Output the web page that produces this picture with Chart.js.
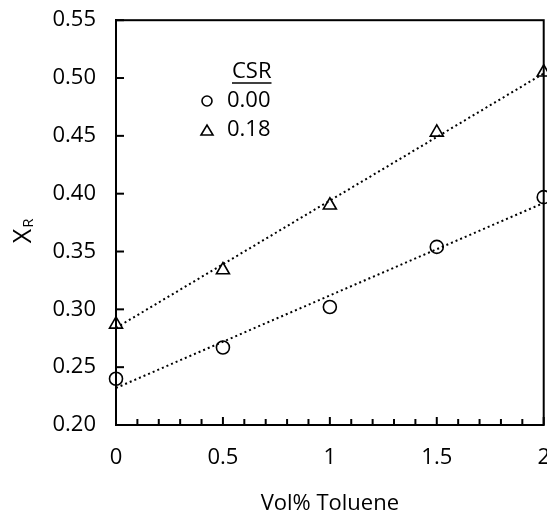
<!DOCTYPE html>
<html>
<head>
<meta charset="utf-8">
<script src="https://cdn.jsdelivr.net/npm/chart.js@4.4.1/dist/chart.umd.min.js"></script>
<style>
  html, body { margin: 0; padding: 0; background: #fff; overflow: hidden; }
  #wrap { width: 547px; height: 517px; overflow: hidden; position: relative; }
  canvas { display: block; }
</style>
</head>
<body>
<div id="wrap"><canvas id="chart" width="558" height="517"></canvas></div>
<script>
// data
const volToluene = [0, 0.5, 1, 1.5, 2];
const xrCsr000 = [0.240, 0.267, 0.302, 0.354, 0.397];
const xrCsr018 = [0.287, 0.334, 0.390, 0.453, 0.505];

// linear trend lines (end points)
const trendX = [0, 2];
const trendCsr000 = [0.232, 0.392];
const trendCsr018 = [0.284, 0.504];

const legendTitle = "CSR";
const legendLabels = ["0.00", "0.18"];
const xTitle = "Vol% Toluene";

const FONT = "'Open Sans', sans-serif";

const toPts = (xs, ys) => xs.map((x, i) => ({ x, y: ys[i] }));

// inward tick marks, box border, y title and the legend
const decorPlugin = {
  id: "decor",
  afterDraw(chart) {
    const ctx = chart.ctx;
    const a = chart.chartArea;
    const xs = chart.scales.x;
    const ys = chart.scales.y;

    ctx.save();
    ctx.strokeStyle = "#000";
    ctx.lineWidth = 2;
    ctx.strokeRect(a.left, a.top, a.right - a.left, a.bottom - a.top);

    // y ticks
    ys.ticks.forEach(t => {
      const py = ys.getPixelForValue(t.value);
      ctx.beginPath();
      ctx.moveTo(a.left, py);
      ctx.lineTo(a.left + 8, py);
      ctx.stroke();
    });
    // x ticks, minor every 0.1
    for (let i = 0; i <= 20; i++) {
      const v = i / 10;
      const px = xs.getPixelForValue(v);
      const len = i % 5 === 0 ? 8 : 6;
      ctx.beginPath();
      ctx.moveTo(px, a.bottom);
      ctx.lineTo(px, a.bottom - len);
      ctx.stroke();
    }

    // y title X with subscript R
    ctx.fillStyle = "#000";
    ctx.translate(24, 232);
    ctx.rotate(-Math.PI / 2);
    ctx.textAlign = "center";
    ctx.textBaseline = "middle";
    ctx.font = "25px " + FONT;
    ctx.fillText("X", -4, 0);
    ctx.font = "15px " + FONT;
    ctx.fillText("R", 9, 5);
    ctx.restore();

    // legend
    ctx.save();
    ctx.fillStyle = "#000";
    ctx.strokeStyle = "#000";
    ctx.font = "22px " + FONT;
    ctx.textBaseline = "middle";
    ctx.textAlign = "left";
    ctx.fillText(legendTitle, 232, 72);
    const tw = ctx.measureText(legendTitle).width;
    ctx.lineWidth = 1.5;
    ctx.beginPath();
    ctx.moveTo(232, 83);
    ctx.lineTo(232 + tw, 83);
    ctx.stroke();

    ctx.fillText(legendLabels[0], 227, 101);
    ctx.fillText(legendLabels[1], 227, 130);
    ctx.lineWidth = 1.6;
    ctx.beginPath();
    ctx.arc(207, 101, 5, 0, Math.PI * 2);
    ctx.stroke();
    ctx.beginPath();
    ctx.moveTo(201, 135);
    ctx.lineTo(213, 135);
    ctx.lineTo(207, 125);
    ctx.closePath();
    ctx.stroke();
    ctx.restore();
  }
};

new Chart(document.getElementById("chart"), {
  type: "scatter",
  data: {
    datasets: [
      {
        label: "trend 0.00",
        type: "line",
        data: toPts(trendX, trendCsr000),
        borderColor: "#000",
        borderWidth: 2,
        borderDash: [2, 3],
        pointRadius: 0,
        fill: false
      },
      {
        label: "trend 0.18",
        type: "line",
        data: toPts(trendX, trendCsr018),
        borderColor: "#000",
        borderWidth: 2,
        borderDash: [2, 3],
        pointRadius: 0,
        fill: false
      },
      {
        label: legendLabels[0],
        data: toPts(volToluene, xrCsr000),
        pointStyle: "circle",
        pointRadius: 6.5,
        borderColor: "#000",
        borderWidth: 1.6,
        backgroundColor: "rgba(0,0,0,0)"
      },
      {
        label: legendLabels[1],
        data: toPts(volToluene, xrCsr018),
        pointStyle: "triangle",
        pointRadius: 7.5,
        borderColor: "#000",
        borderWidth: 1.6,
        backgroundColor: "rgba(0,0,0,0)"
      }
    ]
  },
  options: {
    responsive: false,
    animation: false,
    clip: false,
    layout: { padding: 0 },
    plugins: {
      legend: { display: false },
      tooltip: { enabled: false }
    },
    scales: {
      x: {
        type: "linear",
        min: 0,
        max: 2,
        grid: { display: false, drawTicks: true, tickLength: 12 },
        border: { display: true, color: "#000", width: 2 },
        ticks: {
          stepSize: 0.5,
          padding: 8,
          color: "#000",
          font: { family: FONT, size: 22 },
          callback: v => String(v)
        },
        title: {
          display: true,
          text: xTitle,
          color: "#000",
          font: { family: FONT, size: 22 },
          padding: { top: 17, bottom: 0 }
        },
        afterFit(scale) { scale.height = 92; }
      },
      y: {
        type: "linear",
        min: 0.2,
        max: 0.55,
        grid: { display: false, drawTicks: true, tickLength: 13 },
        border: { display: true, color: "#000", width: 2 },
        ticks: {
          stepSize: 0.05,
          padding: 7,
          color: "#000",
          font: { family: FONT, size: 22 },
          callback: v => v.toFixed(2)
        },
        afterFit(scale) { scale.width = 116; }
      }
    }
  },
  plugins: [decorPlugin]
});
</script>
</body>
</html>
